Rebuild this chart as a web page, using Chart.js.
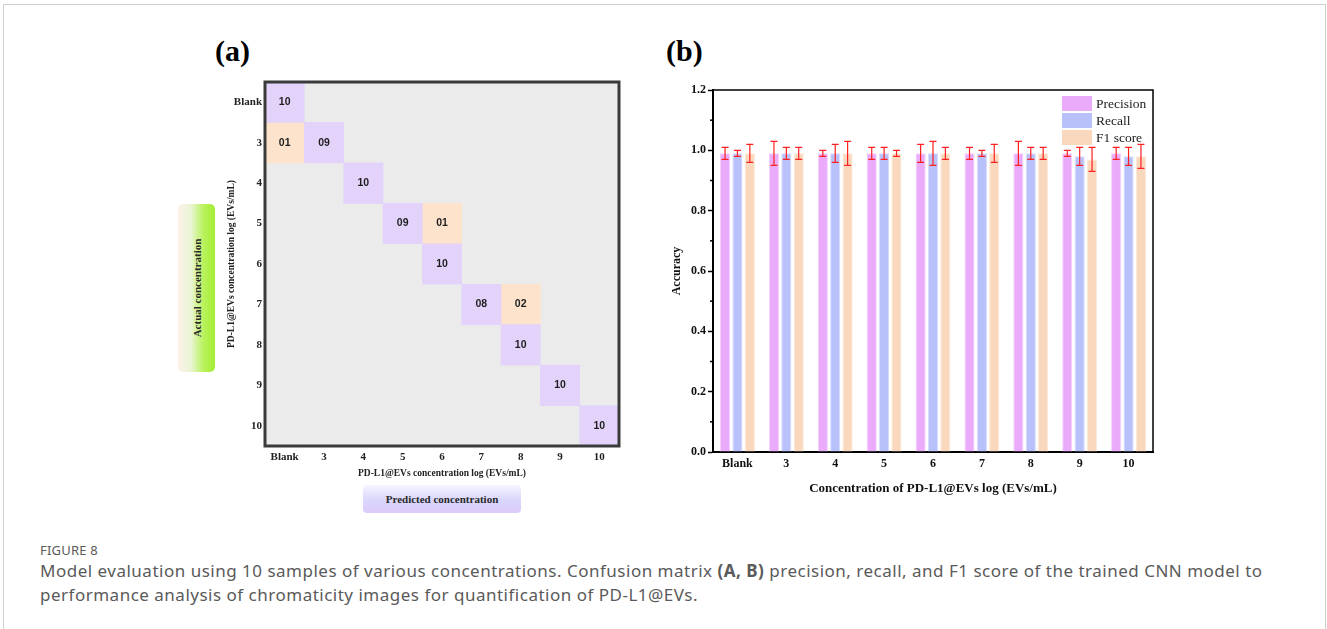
<!DOCTYPE html>
<html>
<head>
<meta charset="utf-8">
<script src="https://cdn.jsdelivr.net/npm/chart.js@4.4.1/dist/chart.umd.min.js"></script>
<style>
  body { margin: 0; width: 1327px; height: 629px; background: #fff; position: relative; overflow: hidden; font-family: "Liberation Serif", serif; }
  .frame { position: absolute; left: 3px; top: 4px; width: 1321px; height: 640px; border: 1px solid #cfcfcf; }
  .panel-tag { position: absolute; font: bold 30px "Liberation Serif", serif; color: #000; }
  #wrapA { position: absolute; left: 220px; top: 70px; width: 410px; height: 420px; }
  #wrapB { position: absolute; left: 640px; top: 70px; width: 530px; height: 445px; }
  .actual-box { position: absolute; left: 178px; top: 204px; width: 37px; height: 168px; border-radius: 5px;
    background: linear-gradient(to right, #fdf1ea 0%, #eaf5d4 35%, #b8f25a 70%, #a4ee36 100%); }
  .actual-box span { position: absolute; left: 50%; top: 50%; transform: translate(-50%, -50%) rotate(-90deg);
    white-space: nowrap; font: bold 11px "Liberation Serif", serif; color: #2a2a2a; }
  .pred-box { position: absolute; left: 363px; top: 485px; width: 158px; height: 28px; border-radius: 4px;
    background: linear-gradient(to bottom, #f6f5ff 0%, #d9d6fc 55%, #dccbfa 100%);
    font: bold 11px "Liberation Serif", serif; color: #2a2a2a; text-align: center; line-height: 28px; }
  .caption { position: absolute; left: 40px; top: 541px; color: #5a5a5a; font-family: "Noto Sans", sans-serif; }
  .caption .fig { font-size: 13px; letter-spacing: 0.2px; margin-bottom: 0; }
  .caption .line { font-size: 17px; letter-spacing: 0.5px; line-height: 24px; white-space: nowrap; }
</style>
</head>
<body>
<div class="frame"></div>
<div class="panel-tag" style="left:215px; top:34px;">(a)</div>
<div class="panel-tag" style="left:666px; top:34px;">(b)</div>
<div class="actual-box"><span>Actual concentration</span></div>
<div class="pred-box">Predicted concentration</div>
<div id="wrapA"><canvas id="matrixChart"></canvas></div>
<div id="wrapB"><canvas id="accChart"></canvas></div>
<div class="caption">
  <div class="fig">FIGURE 8</div>
  <div class="line">Model evaluation using 10 samples of various concentrations. Confusion matrix <b>(A, B)</b> precision, recall, and F1 score of the trained CNN model to</div>
  <div class="line">performance analysis of chromaticity images for quantification of PD-L1@EVs.</div>
</div>
<script>
// ---- (a) confusion matrix data ----
const concLabels = ['Blank', '3', '4', '5', '6', '7', '8', '9', '10'];
const correctCounts = [10, 9, 10, 9, 10, 8, 10, 10, 10];   // diagonal cells
const missActual = ['3', '5', '7'];
const missPredicted = ['Blank', '6', '8'];
const missCounts = [1, 1, 2];

// ---- (b) accuracy data ----
const precision = [0.99, 0.99, 0.99, 0.99, 0.99, 0.99, 0.99, 0.99, 0.99];
const precisionErr = [0.02, 0.04, 0.01, 0.02, 0.03, 0.02, 0.04, 0.01, 0.02];
const recall = [0.99, 0.99, 0.99, 0.99, 0.99, 0.99, 0.99, 0.98, 0.98];
const recallErr = [0.01, 0.02, 0.03, 0.02, 0.04, 0.01, 0.02, 0.03, 0.03];
const f1score = [0.99, 0.99, 0.99, 0.99, 0.99, 0.99, 0.99, 0.97, 0.98];
const f1Err = [0.03, 0.02, 0.04, 0.01, 0.02, 0.03, 0.02, 0.04, 0.04];
const accTicks = [0, 0.2, 0.4, 0.6, 0.8, 1.0, 1.2];

const serif = "'Liberation Serif', 'Times New Roman', serif";

// build floating bar cells: one per column for each dataset
const diagCells = concLabels.map((lab, i) => ({ x: lab, y: [i, i + 1], n: correctCounts[i] }));
const missCells = missActual.map((row, k) => {
    const r = concLabels.indexOf(row);
    return { x: missPredicted[k], y: [r, r + 1], n: missCounts[k] };
});

const matrixPlugin = {
    id: 'matrixDeco',
    beforeDatasetsDraw(chart) {
        const { ctx, chartArea: a } = chart;
        ctx.save();
        ctx.fillStyle = '#ebebeb';
        ctx.fillRect(a.left, a.top, a.right - a.left, a.bottom - a.top);
        ctx.restore();
    },
    afterDatasetsDraw(chart) {
        const { ctx, chartArea: a } = chart;
        ctx.save();
        ctx.font = "bold 10.5px 'Liberation Sans', Arial, sans-serif";
        ctx.fillStyle = '#1e1e1e';
        ctx.textAlign = 'center';
        ctx.textBaseline = 'middle';
        chart.data.datasets.forEach((ds, di) => {
            chart.getDatasetMeta(di).data.forEach((bar, i) => {
                const txt = String(ds.data[i].n).padStart(2, '0');
                ctx.fillText(txt, bar.x, (bar.y + bar.base) / 2);
            });
        });
        // dark frame
        ctx.strokeStyle = '#3a3a3a';
        ctx.lineWidth = 3;
        ctx.strokeRect(a.left, a.top, a.right - a.left, a.bottom - a.top);
        ctx.restore();
    }
};

new Chart(document.getElementById('matrixChart'), {
    type: 'bar',
    data: {
        labels: concLabels,
        datasets: [
            { data: diagCells, backgroundColor: '#e3d3fb', grouped: false },
            { data: missCells, backgroundColor: '#fde3cb', grouped: false },
        ],
    },
    options: {
        responsive: true,
        maintainAspectRatio: false,
        animation: false,
        barPercentage: 1,
        categoryPercentage: 1,
        layout: { padding: { top: 12, right: 11, left: 0, bottom: 0 } },
        plugins: { legend: { display: false }, tooltip: { enabled: false } },
        scales: {
            x: {
                grid: { display: false, drawTicks: false },
                border: { display: false },
                ticks: { color: '#222', font: { family: serif, size: 11, weight: 'bold' }, padding: 5 },
                title: {
                    display: true,
                    text: 'PD-L1@EVs concentration log (EVs/mL)',
                    color: '#222',
                    font: { family: serif, size: 9.5, weight: 'bold' },
                    padding: { bottom: 11 },
                },
                afterFit: s => { s.height = 44; },
            },
            y: {
                min: 0,
                max: 9,
                reverse: true,
                grid: { display: false, drawTicks: false },
                border: { display: false },
                afterBuildTicks: s => { s.ticks = concLabels.map((l, i) => ({ value: i + 0.5 })); },
                ticks: {
                    color: '#222',
                    font: { family: serif, size: 11, weight: 'bold' },
                    padding: 3,
                    callback: v => concLabels[Math.floor(v)],
                },
                title: {
                    display: true,
                    text: 'PD-L1@EVs concentration log (EVs/mL)',
                    color: '#222',
                    font: { family: serif, size: 9.5, weight: 'bold' },
                    padding: { top: 6 },
                },
                afterFit: s => { s.width = 45; },
            },
        },
    },
    plugins: [matrixPlugin],
});

// ---- (b) bar chart ----
const errSets = [precisionErr, recallErr, f1Err];
const legendNames = ['Precision', 'Recall', 'F1 score'];
const barColors = ['#ebabfb', '#b9c1fb', '#fad8bd'];
const barEdges = ['#f4cffd', '#d6dbfd', '#fce7d6'];

const accPlugin = {
    id: 'accDeco',
    afterDatasetsDraw(chart) {
        const { ctx, chartArea: a, scales } = chart;
        const y = scales.y;
        ctx.save();
        // error bars
        ctx.strokeStyle = '#ff2020';
        ctx.lineWidth = 1.2;
        chart.data.datasets.forEach((ds, di) => {
            chart.getDatasetMeta(di).data.forEach((bar, i) => {
                const v = ds.data[i], e = errSets[di][i];
                const yt = y.getPixelForValue(v + e), yb = y.getPixelForValue(v - e);
                ctx.beginPath();
                ctx.moveTo(bar.x, yt); ctx.lineTo(bar.x, yb);
                ctx.moveTo(bar.x - 3.5, yt); ctx.lineTo(bar.x + 3.5, yt);
                ctx.moveTo(bar.x - 3.5, yb); ctx.lineTo(bar.x + 3.5, yb);
                ctx.stroke();
            });
        });
        // minor ticks
        ctx.strokeStyle = '#000';
        ctx.lineWidth = 1.5;
        for (let k = 0; k < accTicks.length - 1; k++) {
            const py = y.getPixelForValue((accTicks[k] + accTicks[k + 1]) / 2);
            ctx.beginPath();
            ctx.moveTo(a.left - 3, py); ctx.lineTo(a.left, py);
            ctx.stroke();
        }
        // top / right frame
        ctx.lineWidth = 1.5;
        ctx.beginPath();
        ctx.moveTo(a.left, a.top); ctx.lineTo(a.right, a.top); ctx.lineTo(a.right, a.bottom);
        ctx.stroke();
        // legend
        ctx.font = '13.5px ' + serif;
        ctx.textBaseline = 'middle';
        ctx.textAlign = 'left';
        legendNames.forEach((name, i) => {
            const bx = a.right - 91, by = a.top + 6 + i * 17;
            ctx.fillStyle = barColors[i];
            ctx.fillRect(bx, by, 30, 15);
            ctx.fillStyle = '#222';
            ctx.fillText(name, bx + 34, by + 8);
        });
        ctx.restore();
    }
};

new Chart(document.getElementById('accChart'), {
    type: 'bar',
    data: {
        labels: concLabels,
        datasets: [
            { label: 'Precision', data: precision, backgroundColor: barColors[0], borderColor: barEdges[0], borderWidth: 1 },
            { label: 'Recall', data: recall, backgroundColor: barColors[1], borderColor: barEdges[1], borderWidth: 1 },
            { label: 'F1 score', data: f1score, backgroundColor: barColors[2], borderColor: barEdges[2], borderWidth: 1 },
        ],
    },
    options: {
        responsive: true,
        maintainAspectRatio: false,
        animation: false,
        categoryPercentage: 0.76,
        barPercentage: 0.82,
        layout: { padding: { top: 20, right: 17, left: 0, bottom: 0 } },
        plugins: { legend: { display: false }, tooltip: { enabled: false } },
        scales: {
            x: {
                grid: { display: false, drawTicks: false },
                border: { display: true, color: '#000', width: 2 },
                ticks: { color: '#111', font: { family: serif, size: 12, weight: 'bold' }, padding: 5 },
                title: {
                    display: true,
                    text: 'Concentration of PD-L1@EVs log (EVs/mL)',
                    color: '#111',
                    font: { family: serif, size: 13, weight: 'bold' },
                    padding: { bottom: 19 },
                },
                afterFit: s => { s.height = 63; },
            },
            y: {
                min: 0,
                max: 1.2,
                grid: { drawOnChartArea: false, tickLength: 5, tickWidth: 1.5, tickColor: '#000' },
                border: { display: true, color: '#000', width: 2 },
                afterBuildTicks: s => { s.ticks = accTicks.map(v => ({ value: v })); },
                ticks: {
                    color: '#111',
                    font: { family: serif, size: 12, weight: 'bold' },
                    padding: 2,
                    callback: v => v.toFixed(1),
                },
                title: {
                    display: true,
                    text: 'Accuracy',
                    color: '#111',
                    font: { family: serif, size: 12, weight: 'bold' },
                    padding: { top: 30 },
                },
                afterFit: s => { s.width = 73; },
            },
        },
    },
    plugins: [accPlugin],
});
</script>
</body>
</html>
